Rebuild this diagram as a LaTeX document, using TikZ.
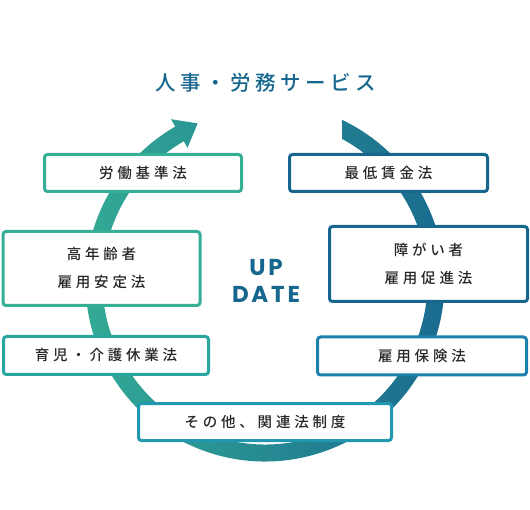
\documentclass[tikz,border=0pt]{standalone}
\usepackage{fontspec}
\setmainfont{Noto Sans CJK JP}
\newfontfamily\titlefont[LetterSpace=22]{Noto Sans CJK JP Medium}
\newfontfamily\lawfont[LetterSpace=26]{Noto Sans CJK JP Medium}
\newfontfamily\updfont[LetterSpace=12]{Poppins}
\usetikzlibrary{calc}

\definecolor{teal1}{HTML}{35AE96}
\definecolor{teal2}{HTML}{2AA6A0}
\definecolor{cyan1}{HTML}{2298B0}
\definecolor{blue1}{HTML}{1B80AC}
\definecolor{blue2}{HTML}{17668E}
\definecolor{ringmid}{HTML}{2396AC}

\begin{document}
\begin{tikzpicture}
    [x=1pt,y=1pt,
     lawbox/.style={draw,line width=3pt,rounded corners=3pt,fill=white,
       inner sep=0pt,align=center,text=black!85,
       font=\lawfont\fontsize{14.5}{28}\selectfont},
     every node/.style={anchor=center}]
    \useasboundingbox (0,0) rectangle (530,-510);
    \coordinate (c) at (265,-282);

    % ring with arrow head
    \shade[left color=teal1,middle color=ringmid,right color=blue2]
      ($(c)+(64.6:179.5)$) arc[start angle=64.6,end angle=-240,radius=179.5]
      -- ($(c)+(120:188)$) -- ($(c)+(120:171)+(30:21)$) -- ($(c)+(120:155)$)
      -- ($(c)+(120:162.5)$) arc[start angle=-240,end angle=61.7,radius=162.5]
      -- cycle;

    \node[text=blue2,font=\titlefont\fontsize{20.5}{24}\selectfont] (title) at (266,-83) {人事・労務サービス};

    \node[lawbox,draw=teal1,minimum width=197,minimum height=37] (roudou) at (143,-173) {労働基準法};
    \node[lawbox,draw=teal1,minimum width=197,minimum height=74] (kounen) at (101.5,-268.5) {高年齢者\\雇用安定法};
    \node[lawbox,draw=teal2,minimum width=205,minimum height=38] (ikuji) at (106,-355.5) {育児・介護休業法};
    \node[lawbox,draw=blue2,minimum width=198,minimum height=37] (saitei) at (388.5,-173) {最低賃金法};
    \node[lawbox,draw=blue2,minimum width=198,minimum height=75] (shougai) at (428.5,-264) {障がい者\\雇用促進法};
    \node[lawbox,draw=blue1,minimum width=209,minimum height=38] (koyou) at (422,-356) {雇用保険法};
    \node[lawbox,draw=cyan1,minimum width=253,minimum height=37] (sonota) at (265,-422) {その他、関連法制度};

    \node[text=blue2,align=center,font=\updfont\bfseries\fontsize{23}{27}\selectfont] (update) at (266,-281) {UP\\DATE};
\end{tikzpicture}
\end{document}
